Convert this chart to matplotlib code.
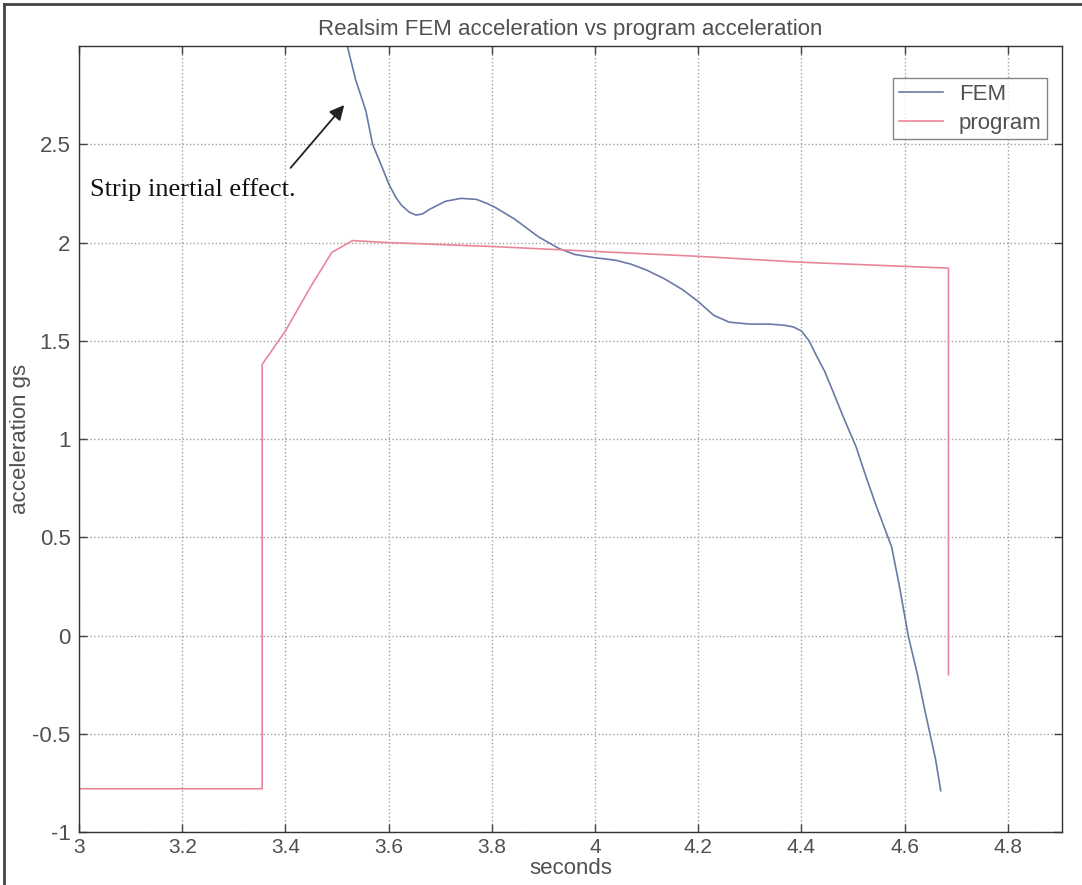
import matplotlib
matplotlib.use("Agg")
import matplotlib.pyplot as plt
from matplotlib.lines import Line2D

# FEM acceleration trace (seconds, g)
fem_t = [3.50, 3.51, 3.52, 3.536, 3.556, 3.569, 3.588, 3.60, 3.614, 3.625,
         3.64, 3.653, 3.665, 3.68, 3.71, 3.74, 3.77, 3.79, 3.806, 3.844,
         3.89, 3.93, 3.96, 3.994, 4.04, 4.07, 4.10, 4.135, 4.17, 4.20,
         4.23, 4.26, 4.30, 4.34, 4.37, 4.385, 4.40, 4.415, 4.428, 4.445,
         4.46, 4.48, 4.506, 4.525, 4.545, 4.56, 4.575, 4.59, 4.607, 4.625,
         4.64, 4.66, 4.67]
fem_a = [3.30, 3.15, 3.00, 2.83, 2.67, 2.50, 2.38, 2.30, 2.23, 2.19,
         2.155, 2.14, 2.145, 2.17, 2.21, 2.225, 2.22, 2.20, 2.18, 2.12,
         2.03, 1.97, 1.94, 1.925, 1.91, 1.89, 1.86, 1.815, 1.76, 1.70,
         1.63, 1.595, 1.585, 1.585, 1.578, 1.57, 1.55, 1.50, 1.43, 1.345,
         1.25, 1.12, 0.96, 0.81, 0.66, 0.555, 0.45, 0.25, 0.0, -0.20,
         -0.39, -0.63, -0.79]

# programmed acceleration profile
prog_t = [3.0, 3.355, 3.355, 3.40, 3.45, 3.49, 3.53, 3.60, 3.80, 4.00,
          4.20, 4.40, 4.685, 4.685]
prog_a = [-0.78, -0.78, 1.38, 1.55, 1.78, 1.95, 2.01, 2.00, 1.98, 1.955,
          1.93, 1.90, 1.87, -0.20]

x_ticks = [3, 3.2, 3.4, 3.6, 3.8, 4, 4.2, 4.4, 4.6, 4.8]
x_labels = ["3", "3.2", "3.4", "3.6", "3.8", "4", "4.2", "4.4", "4.6", "4.8"]
y_ticks = [-1, -0.5, 0, 0.5, 1, 1.5, 2, 2.5]
y_labels = ["-1", "-0.5", "0", "0.5", "1", "1.5", "2", "2.5"]

plt.rcParams['font.family'] = ['Liberation Sans', 'DejaVu Sans']

fem_color = '#6a7aa8'
prog_color = '#e8879a'
text_color = '#505050'

fig = plt.figure(figsize=(10.82, 8.85), dpi=100)
ax = fig.add_axes([0.073, 0.0599, 0.9085, 0.888])

ax.plot(fem_t, fem_a, color=fem_color, lw=1.2, label='FEM')
ax.plot(prog_t, prog_a, color=prog_color, lw=1.2, label='program')

ax.set_xlim(3, 4.905)
ax.set_ylim(-1, 3)
ax.set_xticks(x_ticks)
ax.set_xticklabels(x_labels)
ax.set_yticks(y_ticks)
ax.set_yticklabels(y_labels)
ax.tick_params(direction='in', top=True, right=True, length=6, width=1,
               labelsize=16, labelcolor=text_color, color='#444444')
ax.tick_params(axis='y', pad=6)
ax.tick_params(axis='x', pad=4, labelsize=15)
ax.grid(True, linestyle=':', color='#a0a0a0', lw=1.0)
for sp in ax.spines.values():
    sp.set_color('#333333')
    sp.set_linewidth(1.0)

ax.set_title('Realsim FEM acceleration vs program acceleration',
             fontsize=16, color=text_color, pad=8)
ax.set_xlabel('seconds', fontsize=16, color=text_color, labelpad=1)
ax.set_ylabel('acceleration gs', fontsize=16, color=text_color, labelpad=1)

# callout for the overshoot at the start of the FEM trace
ax.text(3.022, 2.27, 'Strip inertial effect.', fontsize=19,
        family=['Liberation Serif', 'DejaVu Serif'], color='#111111',
        va='center', ha='left')
ax.annotate('', xy=(3.514, 2.70), xytext=(3.41, 2.38),
            arrowprops=dict(arrowstyle='-|>', color='#222222', lw=1.3,
                            mutation_scale=22, shrinkA=0, shrinkB=0))

handles = [Line2D([], [], color=fem_color, lw=1.2),
           Line2D([], [], color=prog_color, lw=1.2)]
leg = ax.legend(handles, ['FEM', 'program'], loc='upper right',
                bbox_to_anchor=(0.9847, 0.959), fontsize=16,
                frameon=True, fancybox=False, edgecolor='#666666',
                handlelength=2.0, handletextpad=0.7, borderpad=0.25,
                labelspacing=0.35, borderaxespad=0)
for t in leg.get_texts():
    t.set_color(text_color)
leg.get_frame().set_linewidth(1.0)

# page border along the left and top edges
fig.add_artist(Line2D([0.004, 0.004], [0.0, 0.995], color='#444444', lw=2,
                      transform=fig.transFigure))
fig.add_artist(Line2D([0.004, 1.0], [0.995, 0.995], color='#444444', lw=2,
                      transform=fig.transFigure))

fig.savefig('out.png', dpi=100)
